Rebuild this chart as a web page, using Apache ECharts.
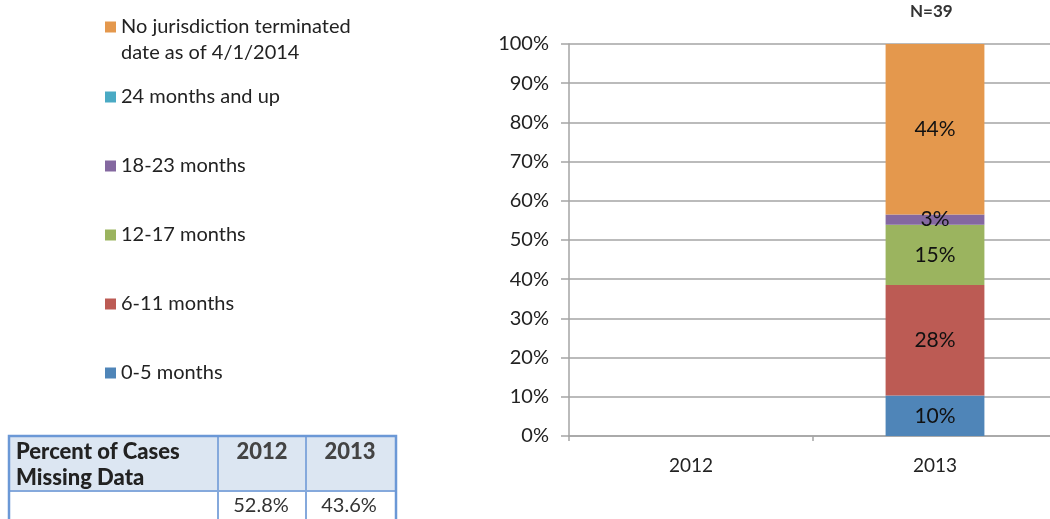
<!DOCTYPE html>
<html>
<head>
<meta charset="utf-8">
<script src="https://cdn.jsdelivr.net/npm/echarts@6/dist/echarts.min.js"></script>
<style>
  html, body { margin: 0; padding: 0; background: #fff; }
  #chart { width: 1050px; height: 519px; }
</style>
</head>
<body>
<div id="chart"></div>
<script>
// chart data
const years = ['2012', '2013'];
const seriesNames = [
  '0-5 months',
  '6-11 months',
  '12-17 months',
  '18-23 months',
  '24 months and up',
  'No jurisdiction terminated date as of 4/1/2014'
];
// percent of cases per group (2012 has no data)
const values2012 = [null, null, null, null, null, null];
const values2013 = [10.3, 28.2, 15.4, 2.6, 0, 43.6];
const yTicks = [0, 10, 20, 30, 40, 50, 60, 70, 80, 90, 100];
const nCases = 39;
const missingPct = [52.8, 43.6];

const colors = ['#4f85b8', '#bc5b54', '#9bb45f', '#8468a0', '#4aaac4', '#e4984d'];
const font = 'Lato, "Open Sans", sans-serif';

const chart = echarts.init(document.getElementById('chart'));

// one legend per entry so the spacing can match the reference
const legendCenters = [373, 304, 235, 166, 97, 27];
const legends = seriesNames.map((name, i) => {
  const twoLine = i === seriesNames.length - 1;
  return {
    data: [name],
    left: 105,
    // the long entry gets a blank first line so the marker sits on its first text line
    top: twoLine ? legendCenters[i] - 39 : legendCenters[i] - 13,
    padding: 0,
    icon: 'rect',
    itemWidth: 11,
    itemHeight: 11,
    selectedMode: false,
    formatter: n => (n.indexOf(' date as') > 0 ? '\n' + n.replace(' date as', '\ndate as') : n),
    textStyle: {
      fontFamily: font,
      fontSize: 20,
      color: '#222',
      lineHeight: 26
    }
  };
});

// table under the legend
const tLeft = 9, tRight = 396, tTop = 436, tMid = 491, tBottom = 530;
const colX = [218, 306];
const tableGraphics = [
  { type: 'rect', shape: { x: tLeft, y: tTop, width: tRight - tLeft, height: tMid - tTop },
    style: { fill: '#dce6f2' } },
  { type: 'line', shape: { x1: tLeft, y1: tMid, x2: tRight, y2: tMid },
    style: { stroke: '#85a9dc', lineWidth: 2 } },
  ...colX.map(x => ({ type: 'line', shape: { x1: x, y1: tTop, x2: x, y2: tBottom },
    style: { stroke: '#85a9dc', lineWidth: 2 } })),
  { type: 'rect', shape: { x: tLeft, y: tTop, width: tRight - tLeft, height: tBottom - tTop },
    style: { fill: 'none', stroke: '#6b98d6', lineWidth: 2.5 } },
  { type: 'text', x: 16, y: 439,
    style: { text: 'Percent of Cases\nMissing Data', font: '900 22px ' + font,
      fill: '#222', lineHeight: 26 } },
  ...years.map((y, i) => ({ type: 'text', x: (i === 0 ? 262 : 350), y: 439,
    style: { text: y, font: '900 22px ' + font, fill: '#444', align: 'center', lineHeight: 26 } })),
  ...missingPct.map((v, i) => ({ type: 'text', x: (i === 0 ? 261 : 349), y: 493,
    style: { text: v.toFixed(1) + '%', font: '20px ' + font, fill: '#333', align: 'center', lineHeight: 25 } }))
];

const option = {
  animation: false,
  title: {
    text: 'N=' + nCases,
    left: 910,
    top: 3,
    padding: 0,
    textStyle: { fontFamily: font, fontSize: 17, fontWeight: 'bold', color: '#333' }
  },
  legend: legends,
  grid: {
    left: 569,
    right: -7,
    top: 44,
    bottom: 83,
    outerBoundsMode: 'none'
  },
  xAxis: {
    type: 'category',
    data: years,
    axisLine: { lineStyle: { color: '#a5a5a5', width: 1.5 } },
    axisTick: { show: true, length: 5, lineStyle: { color: '#a5a5a5', width: 1.5 } },
    axisLabel: { margin: 20, fontFamily: font, fontSize: 19, color: '#222' }
  },
  yAxis: {
    type: 'value',
    min: yTicks[0],
    max: yTicks[yTicks.length - 1],
    interval: yTicks[1] - yTicks[0],
    axisLine: { show: true, lineStyle: { color: '#a5a5a5', width: 1.5 } },
    axisTick: { show: true, length: 8, lineStyle: { color: '#a5a5a5', width: 1.5 } },
    splitLine: { lineStyle: { color: '#a5a5a5', width: 1.5 } },
    axisLabel: { margin: 20, fontFamily: font, fontSize: 20, color: '#222', formatter: '{value}%' }
  },
  series: seriesNames.map((name, i) => ({
    name: name,
    type: 'bar',
    stack: 'total',
    barWidth: '40.5%',
    itemStyle: { color: colors[i] },
    label: {
      show: true,
      position: 'inside',
      fontFamily: font,
      fontSize: 21,
      color: '#111',
      formatter: p => (p.value ? Math.round(p.value) + '%' : '')
    },
    data: years.map((y, j) => (j === 0 ? values2012[i] : values2013[i]))
  })),
  graphic: tableGraphics
};

chart.setOption(option);
</script>
</body>
</html>
